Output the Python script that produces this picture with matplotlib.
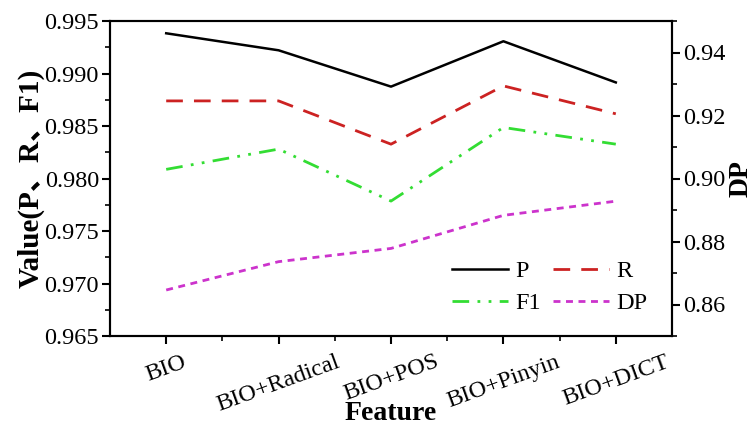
import matplotlib
matplotlib.use('Agg')
import matplotlib.pyplot as plt
from matplotlib.ticker import MultipleLocator, AutoMinorLocator
from matplotlib.lines import Line2D

features = ['BIO', 'BIO+Radical', 'BIO+POS', 'BIO+Pinyin', 'BIO+DICT']
p_vals = [0.99383, 0.99221, 0.98875, 0.99307, 0.98915]
r_vals = [0.98739, 0.98739, 0.98327, 0.98882, 0.98616]
f1_vals = [0.98087, 0.98280, 0.97785, 0.98486, 0.98327]
dp_vals = [0.8646, 0.8736, 0.8778, 0.8883, 0.8928]

black = '#000000'
red = '#cc2222'
green = '#33dd33'
magenta = '#cc33cc'

plt.rcParams.update({
    'font.family': ['Liberation Serif', 'Noto Sans CJK SC'],
    'font.size': 17.5,
    'axes.linewidth': 1.5,
    'xtick.major.width': 1.5,
    'ytick.major.width': 1.5,
    'xtick.minor.width': 1.2,
    'ytick.minor.width': 1.2,
    'xtick.major.size': 6,
    'ytick.major.size': 6,
    'xtick.minor.size': 3.5,
    'ytick.minor.size': 3.5,
})

fig = plt.figure(figsize=(7.53, 4.25), dpi=100)
ax = fig.add_axes([110 / 753, 1 - 336 / 425, 562 / 753, 315 / 425])
x = list(range(len(features)))

ax.plot(x, p_vals, color=black, lw=1.8, ls='-')
ax.plot(x, r_vals, color=red, lw=2, ls=(0, (6, 4)))
ax.plot(x, f1_vals, color=green, lw=2, ls=(0, (6, 3, 1, 3, 1, 3)))
ax.set_xlim(-0.5, 4.5)
ax.set_ylim(0.965, 0.995)
ax.yaxis.set_major_locator(MultipleLocator(0.005))
ax.yaxis.set_minor_locator(AutoMinorLocator(2))
ax.yaxis.set_major_formatter(plt.FormatStrFormatter('%.3f'))
ax.tick_params(axis='y', pad=2)
ax.set_xticks(x)
ax.set_xticks([i + 0.5 for i in x[:-1]], minor=True)
ax.set_xticklabels(features, rotation=20, ha='center')
ax.tick_params(axis='x', pad=5)
ax.set_xlabel('Feature', fontsize=20, fontweight='bold')
ax.xaxis.set_label_coords(0.5, -0.205)
ax.set_ylabel('Value(P、R、F1)', fontsize=21, fontweight='bold', labelpad=0)

ax2 = ax.twinx()
ax2.plot(x, dp_vals, color=magenta, lw=2, ls=(0, (2.5, 2)))
ax2.set_ylim(0.85, 0.95)
ax2.set_yticks([0.86, 0.88, 0.90, 0.92, 0.94])
ax2.yaxis.set_minor_locator(AutoMinorLocator(2))
ax2.yaxis.set_major_formatter(plt.FormatStrFormatter('%.2f'))
ax2.tick_params(axis='y', pad=2)
ax2.set_ylabel('DP', fontsize=20, fontweight='bold', labelpad=2)

handles = [
    Line2D([], [], color=black, lw=1.8, ls='-'),
    Line2D([], [], color=green, lw=2, ls=(0, (6, 3, 1, 3, 1, 3))),
    Line2D([], [], color=red, lw=2, ls=(0, (6, 4))),
    Line2D([], [], color=magenta, lw=2, ls=(0, (2.5, 2))),
]
ax.legend(handles, ['P', 'F1', 'R', 'DP'], ncol=2, frameon=False,
          loc='lower right', bbox_to_anchor=(0.995, 0.0), fontsize=17.5,
          handlelength=2.3, columnspacing=0.5, handletextpad=0.3,
          labelspacing=0.4)

fig.savefig('out.png', dpi=100)
